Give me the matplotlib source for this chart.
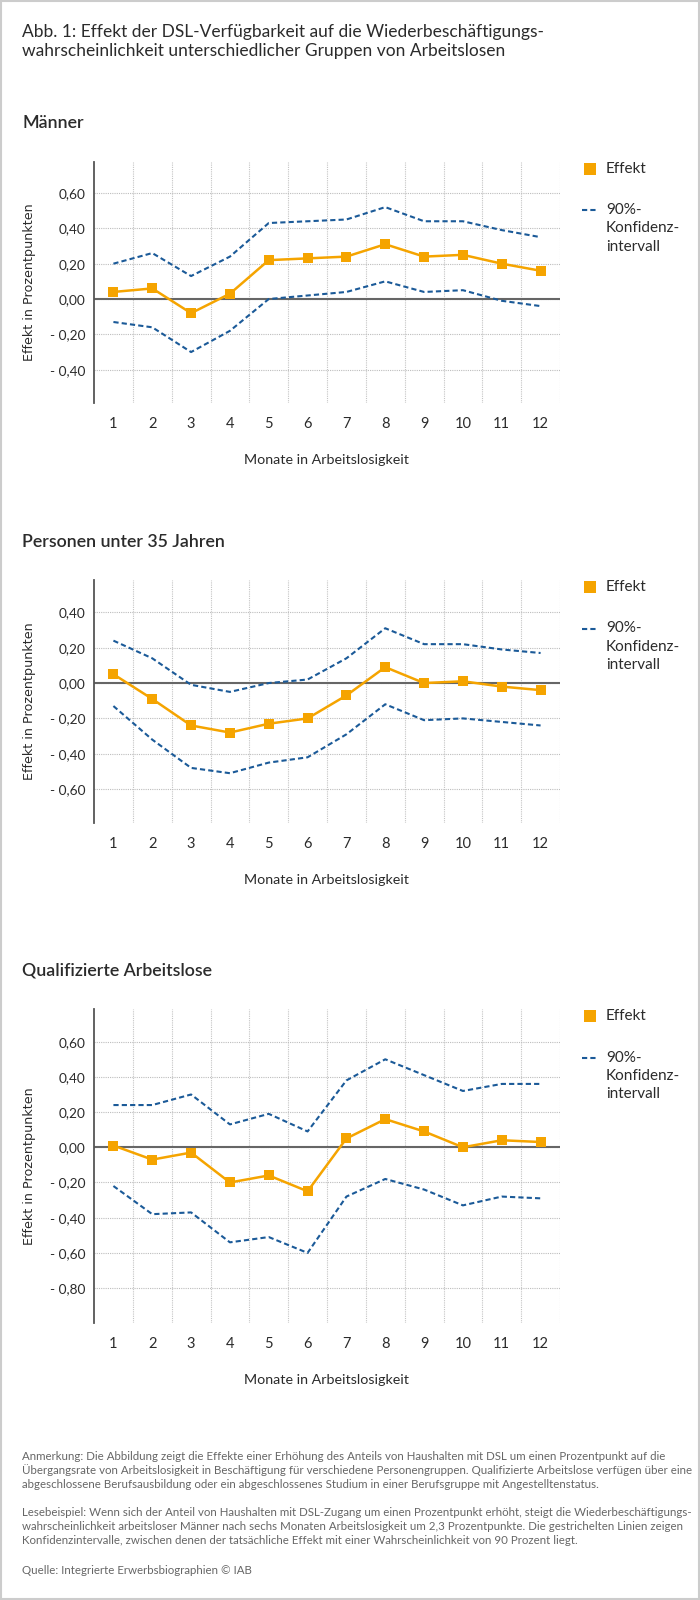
import matplotlib
matplotlib.use('Agg')
from matplotlib import pyplot as plt
from matplotlib.ticker import FuncFormatter
from matplotlib.lines import Line2D
from matplotlib.patches import Rectangle

# Monate in Arbeitslosigkeit
months = list(range(1, 13))

# Männer
maenner_effekt = [0.04, 0.06, -0.08, 0.03, 0.22, 0.23, 0.24, 0.31, 0.24, 0.25, 0.20, 0.16]
maenner_oben = [0.20, 0.26, 0.13, 0.24, 0.43, 0.44, 0.45, 0.52, 0.44, 0.44, 0.39, 0.35]
maenner_unten = [-0.13, -0.16, -0.30, -0.18, 0.00, 0.02, 0.04, 0.10, 0.04, 0.05, -0.01, -0.04]
maenner_ticks = [-0.4, -0.2, 0.0, 0.2, 0.4, 0.6]

# Personen unter 35 Jahren
junge_effekt = [0.05, -0.09, -0.24, -0.28, -0.23, -0.20, -0.07, 0.09, 0.00, 0.01, -0.02, -0.04]
junge_oben = [0.24, 0.14, -0.01, -0.05, 0.00, 0.02, 0.14, 0.31, 0.22, 0.22, 0.19, 0.17]
junge_unten = [-0.13, -0.32, -0.48, -0.51, -0.45, -0.42, -0.29, -0.12, -0.21, -0.20, -0.22, -0.24]
junge_ticks = [-0.6, -0.4, -0.2, 0.0, 0.2, 0.4]

# Qualifizierte Arbeitslose
quali_effekt = [0.01, -0.07, -0.03, -0.20, -0.16, -0.25, 0.05, 0.16, 0.09, 0.00, 0.04, 0.03]
quali_oben = [0.24, 0.24, 0.30, 0.13, 0.19, 0.09, 0.38, 0.50, 0.41, 0.32, 0.36, 0.36]
quali_unten = [-0.22, -0.38, -0.37, -0.54, -0.51, -0.60, -0.28, -0.18, -0.24, -0.33, -0.28, -0.29]
quali_ticks = [-0.8, -0.6, -0.4, -0.2, 0.0, 0.2, 0.4, 0.6]

W, H = 700, 1600
ORANGE = '#f5a400'
BLUE = '#1b5a98'
TEXT = '#2b2b2b'
GREY = '#666666'

plt.rcParams['font.family'] = ['Lato', 'DejaVu Sans']


def fx(x):
    return x / W


def fy(y):
    return 1 - y / H


def fmt(v, pos):
    s = '%.2f' % abs(v)
    s = s.replace('.', ',')
    if v < -1e-9:
        return '- ' + s
    return s


fig = plt.figure(figsize=(7, 16), dpi=100)
fig.patch.set_facecolor('white')

# Rahmen
fig.add_artist(Rectangle((0.001, 0.0006), 0.998, 0.9988, transform=fig.transFigure,
                         fill=False, edgecolor='#cccccc', linewidth=1.5))

fig.text(fx(22), fy(37), 'Abb. 1: Effekt der DSL-Verfügbarkeit auf die Wiederbeschäftigungs-',
         fontsize=12.5, color=TEXT, va='baseline')
fig.text(fx(22), fy(56), 'wahrscheinlichkeit unterschiedlicher Gruppen von Arbeitslosen',
         fontsize=12.5, color=TEXT, va='baseline')

panels = [
    ('Männer', maenner_effekt, maenner_oben, maenner_unten, maenner_ticks,
     (-0.59, 0.777), 161.7, 403.3, 128),
    ('Personen unter 35 Jahren', junge_effekt, junge_oben, junge_unten, junge_ticks,
     (-0.79, 0.583), 580, 822.7, 546.7),
    ('Qualifizierte Arbeitslose', quali_effekt, quali_oben, quali_unten, quali_ticks,
     (-1.0, 0.784), 1009.3, 1323.3, 976),
]

for title, eff, oben, unten, yt, ylim, top, bottom, title_y in panels:
    fig.text(fx(22), fy(title_y), title, fontsize=12.8, fontweight='semibold',
             color=TEXT, va='baseline')

    ax = fig.add_axes([fx(94), fy(bottom), 466 / W, (bottom - top) / H])
    ax.set_xlim(0.5, 12.5)
    ax.set_ylim(*ylim)

    ax.set_xticks(months)
    ax.set_xticks([m + 0.5 for m in months], minor=True)
    ax.set_yticks(yt)
    ax.yaxis.set_major_formatter(FuncFormatter(fmt))
    ax.tick_params(axis='both', which='both', length=0)
    ax.tick_params(axis='x', labelsize=10.5, colors=TEXT, pad=10)
    ax.tick_params(axis='y', labelsize=9.8, colors=TEXT, pad=6)

    ax.grid(which='minor', axis='x', color='#c4c4c4', linestyle=(0, (1, 1)), linewidth=0.8)
    ax.grid(which='major', axis='y', color='#bdbdbd', linestyle=(0, (1, 1)), linewidth=0.8)
    ax.grid(which='major', axis='x', visible=False)
    ax.set_axisbelow(True)

    for side in ['top', 'right', 'bottom']:
        ax.spines[side].set_visible(False)
    ax.spines['left'].set_color('#555555')
    ax.spines['left'].set_linewidth(1.3)

    ax.axhline(0, color=GREY, linewidth=1.5, zorder=2)

    ax.plot(months, oben, color=BLUE, linewidth=1.5, linestyle=(0, (2.5, 1.5)), zorder=3)
    ax.plot(months, unten, color=BLUE, linewidth=1.5, linestyle=(0, (2.5, 1.5)), zorder=3)
    ax.plot(months, eff, color=ORANGE, linewidth=1.8, marker='s', markersize=6.5,
            markeredgewidth=0, zorder=4)

    ax.set_ylabel('Effekt in Prozentpunkten', fontsize=9.2, color=TEXT, family='DejaVu Sans')
    ax.yaxis.set_label_coords(-0.124, 0.5)

    fig.text(fx(327), fy(bottom + 57), 'Monate in Arbeitslosigkeit', fontsize=10.3,
             color=TEXT, ha='center', va='center')

    # Legende
    fig.add_artist(Rectangle((fx(584), fy(top + 13)), 12 / W, 12 / H,
                             transform=fig.transFigure, facecolor=ORANGE, edgecolor='none'))
    fig.text(fx(606), fy(top + 7), 'Effekt', fontsize=11, color=TEXT, va='center')
    ly = top + 48.5
    fig.add_artist(Line2D([fx(582), fx(598)], [fy(ly), fy(ly)], transform=fig.transFigure,
                          color=BLUE, linewidth=1.5, linestyle=(0, (2.5, 1.5))))
    for i, line in enumerate(['90%-', 'Konfidenz-', 'intervall']):
        fig.text(fx(606), fy(ly + i * 18.3), line, fontsize=11, color=TEXT, va='center')

note1 = [
    'Anmerkung: Die Abbildung zeigt die Effekte einer Erhöhung des Anteils von Haushalten mit DSL um einen Prozentpunkt auf die',
    'Übergangsrate von Arbeitslosigkeit in Beschäftigung für verschiedene Personengruppen. Qualifizierte Arbeitslose verfügen über eine',
    'abgeschlossene Berufsausbildung oder ein abgeschlossenes Studium in einer Berufsgruppe mit Angestelltenstatus.',
]
note2 = [
    'Lesebeispiel: Wenn sich der Anteil von Haushalten mit DSL-Zugang um einen Prozentpunkt erhöht, steigt die Wiederbeschäftigungs-',
    'wahrscheinlichkeit arbeitsloser Männer nach sechs Monaten Arbeitslosigkeit um 2,3 Prozentpunkte. Die gestrichelten Linien zeigen',
    'Konfidenzintervalle, zwischen denen der tatsächliche Effekt mit einer Wahrscheinlichkeit von 90 Prozent liegt.',
]
for i, line in enumerate(note1):
    fig.text(fx(22), fy(1456 + i * 14), line, fontsize=8.3, color=GREY, va='center')
for i, line in enumerate(note2):
    fig.text(fx(22), fy(1513 + i * 14), line, fontsize=8.3, color=GREY, va='center')
fig.text(fx(22), fy(1571), 'Quelle: Integrierte Erwerbsbiographien © IAB', fontsize=8.3,
         color=GREY, va='center')

fig.savefig('out.png', dpi=100, facecolor='white')
